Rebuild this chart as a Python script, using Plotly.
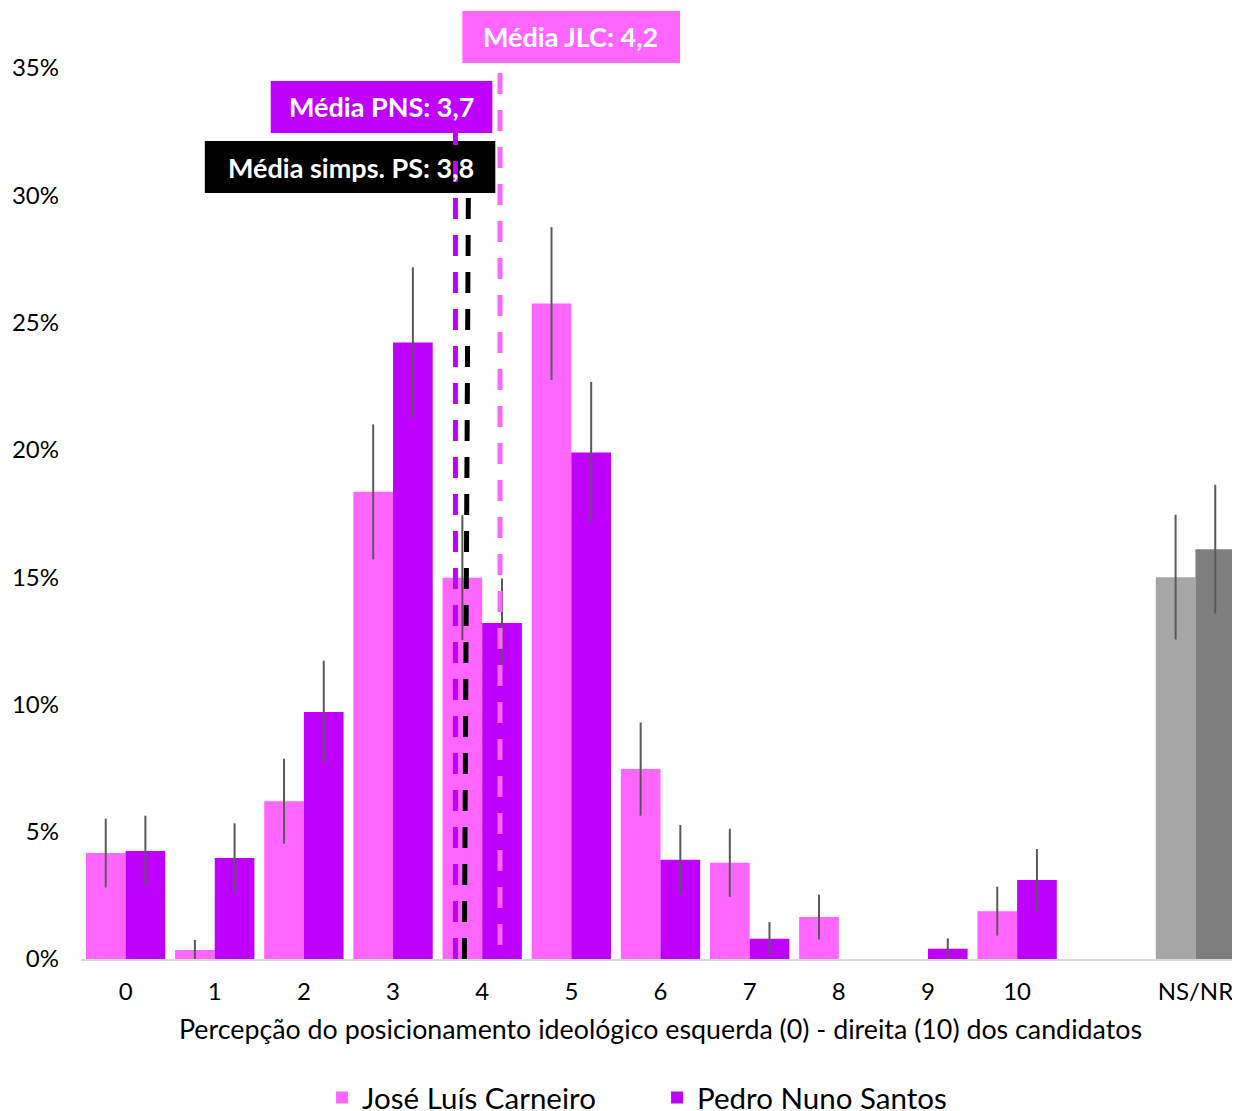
import plotly.graph_objects as go

# ---- data ----
positions = [0, 1, 2, 3, 4, 5, 6, 7, 8, 9, 10, 12]
tick_labels = ["0", "1", "2", "3", "4", "5", "6", "7", "8", "9", "10", "NS/NR"]

jlc_values = [4.16, 0.35, 6.2, 18.35, 14.98, 25.75, 7.46, 3.78, 1.65, 0.0, 1.88, 15.0]
jlc_errors = [1.35, 0.4, 1.67, 2.65, 2.45, 3.0, 1.83, 1.34, 0.88, 0.0, 0.96, 2.45]
pns_values = [4.24, 3.97, 9.7, 24.22, 13.2, 19.9, 3.9, 0.8, 0.0, 0.4, 3.1, 16.1]
pns_errors = [1.39, 1.36, 2.02, 2.95, 1.75, 2.77, 1.36, 0.65, 0.0, 0.41, 1.22, 2.53]

mean_jlc = 4.2
mean_pns = 3.7
mean_ps = 3.8

series_names = ["José Luís Carneiro", "Pedro Nuno Santos"]

# ---- styles ----
PINK = "#FF66FF"
PURPLE = "#BF00FF"
GREY_L = "#A6A6A6"
GREY_D = "#7F7F7F"
FONT = "Lato"

jlc_colors = [PINK] * 11 + [GREY_L]
pns_colors = [PURPLE] * 11 + [GREY_D]

err_style = dict(type="data", symmetric=True, color="#595959", thickness=2, width=0)

fig = go.Figure()
fig.add_trace(go.Bar(
    x=positions, y=jlc_values, name=series_names[0],
    marker=dict(color=jlc_colors, line=dict(width=0)),
    error_y=dict(array=jlc_errors, **err_style),
))
fig.add_trace(go.Bar(
    x=positions, y=pns_values, name=series_names[1],
    marker=dict(color=pns_colors, line=dict(width=0)),
    error_y=dict(array=pns_errors, **err_style),
))

# label boxes (drawn as shapes so that lines can overlay them)
shapes = [
    dict(type="rect", xref="x", yref="y", x0=0.889, x1=4.147, y0=30.09, y1=32.13,
         fillcolor="black", line=dict(width=0), layer="above"),
    dict(type="rect", xref="x", yref="y", x0=1.628, x1=4.114, y0=32.45, y1=34.49,
         fillcolor=PURPLE, line=dict(width=0), layer="above"),
    dict(type="rect", xref="x", yref="y", x0=3.778, x1=6.219, y0=35.2, y1=37.24,
         fillcolor=PINK, line=dict(width=0), layer="above"),
    # mean lines
    dict(type="line", xref="x", yref="y", x0=mean_jlc, x1=mean_jlc, y0=0.55, y1=35.2,
         line=dict(color=PINK, width=5, dash="21px,16px"), layer="above"),
    dict(type="line", xref="x", yref="y", x0=mean_ps, x1=mean_ps + 0.045, y0=0, y1=30.09,
         line=dict(color="black", width=5, dash="21px,16px"), layer="above"),
    dict(type="line", xref="x", yref="y", x0=mean_pns, x1=mean_pns, y0=0, y1=32.45,
         line=dict(color=PURPLE, width=5, dash="21px,16px"), layer="above"),
]

lbl_font = dict(family=FONT, size=27, color="white")
annotations = [
    dict(x=4.985, y=36.22, xref="x", yref="y", text="<b>Média JLC: 4,2</b>",
         showarrow=False, font=lbl_font, xanchor="center", yanchor="middle"),
    dict(x=2.876, y=33.47, xref="x", yref="y", text="<b>Média PNS: 3,7</b>",
         showarrow=False, font=lbl_font, xanchor="center", yanchor="middle"),
    dict(x=2.529, y=31.11, xref="x", yref="y", text="<b>Média simps. PS: 3,8</b>",
         showarrow=False, font=lbl_font, xanchor="center", yanchor="middle"),
]

fig.update_layout(
    width=1232, height=1103,
    margin=dict(l=73, r=0, t=3, b=152, autoexpand=False),
    paper_bgcolor="white", plot_bgcolor="white",
    barmode="group", bargap=0.11, bargroupgap=0,
    font=dict(family=FONT, size=22, color="black"),
    shapes=shapes, annotations=annotations,
    showlegend=True,
    legend=dict(orientation="h", x=0.208, xanchor="left", yref="container",
                y=0.012, yanchor="middle", entrywidth=290, entrywidthmode="pixels",
                font=dict(family=FONT, size=29.5, color="black")),
    xaxis=dict(
        range=[-0.5, 12.5], tickmode="array", tickvals=positions, ticktext=tick_labels,
        showgrid=False, zeroline=False, showline=True, linecolor="#D9D9D9", linewidth=2,
        ticks="", ticklabelstandoff=10, tickfont=dict(family=FONT, size=24, color="black"),
        title=dict(text="Percepção do posicionamento ideológico esquerda (0) - direita (10) dos candidatos",
                   font=dict(family=FONT, size=26.8, color="black"), standoff=16),
    ),
    yaxis=dict(
        range=[0, 37.24], tickmode="array", tickvals=[0, 5, 10, 15, 20, 25, 30, 35],
        ticktext=["0%", "5%", "10%", "15%", "20%", "25%", "30%", "35%"],
        showgrid=False, zeroline=False, showline=False, ticks="", ticklabelstandoff=21,
        tickfont=dict(family=FONT, size=24, color="black"),
    ),
)

fig.write_html("out.html")
